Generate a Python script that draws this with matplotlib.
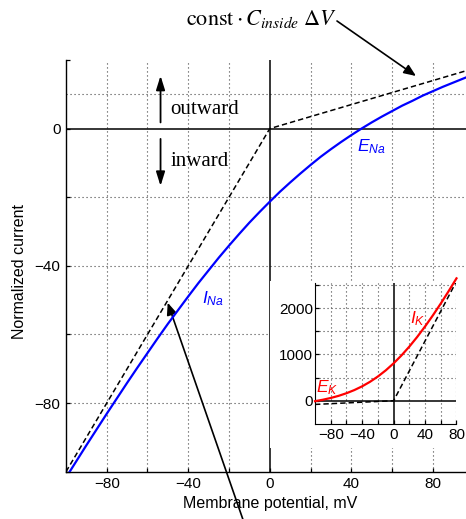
import matplotlib
matplotlib.use("Agg")
import matplotlib.pyplot as plt
from matplotlib.patches import Rectangle

plt.rcParams['font.family'] = ['Liberation Sans', 'DejaVu Sans']
plt.rcParams['mathtext.fontset'] = 'custom'
plt.rcParams['mathtext.it'] = 'Liberation Sans:italic'
plt.rcParams['mathtext.rm'] = 'Liberation Sans'

# main panel: Na current (normalized) vs membrane potential
v_na = [-100, -95, -90, -85, -80, -75, -70, -65, -60, -55, -50, -45, -40, -35,
        -30, -25, -20, -15, -10, -5, 0, 5, 10, 15, 20, 25, 30, 35, 40, 45,
        50, 55, 60, 65, 70, 75, 80, 85, 90, 95, 100]
i_na = [-101.7, -97.0, -92.3, -87.7, -83.1, -78.6, -74.1, -69.7, -65.4, -61.1,
        -56.9, -52.9, -48.9, -45.0, -41.3, -37.6, -34.1, -30.7, -27.4, -24.3,
        -21.3, -18.4, -15.7, -13.1, -10.6, -8.2, -6.0, -3.9, -1.9, 0.0,
        1.8, 3.5, 5.1, 6.7, 8.1, 9.6, 10.9, 12.2, 13.4, 14.6, 15.8]
v_na_lim = [-100, 0, 100]
i_na_lim = [-100, 0, 17.5]

# inset: K current
v_k = [-100, -90, -80, -70, -60, -50, -40, -30, -20, -10, 0, 10, 20, 30, 40,
       50, 60, 70, 80]
i_k = [-9.9, 21.3, 59.2, 105.3, 161.6, 229.6, 311.3, 408.6, 523.1, 655.6,
       807.4, 978.6, 1168.8, 1377.6, 1603.6, 1844.6, 2099.4, 2366.2, 2643.0]
v_k_lim = [-100, 0, 80]
i_k_lim = [-80, 0, 2580]

main_xgrid = [-80, -60, -40, -20, 20, 40, 60, 80]
main_ygrid = [-80, -60, -40, -20, 10]
inset_xgrid = [-80, -60, -40, -20, 20, 40, 60, 80]
inset_ygrid = [500, 1000, 1500, 2000, 2500]

dot = (0, (1, 2.6))
gridc = '#444444'

fig = plt.figure(figsize=(4.66, 5.19), dpi=100)
ax = fig.add_axes([0.1416, 0.0911, 0.8584, 0.7933])
ax.set_zorder(0)
ax.set_xlim(-100, 96.3)
ax.set_ylim(-100, 20)
for s in ['top', 'right']:
    ax.spines[s].set_visible(False)
for s in ['left', 'bottom']:
    ax.spines[s].set_linewidth(1.0)

for gx in main_xgrid:
    ax.axvline(gx, color=gridc, lw=0.8, ls=dot, zorder=1)
for gy in main_ygrid:
    ax.axhline(gy, color=gridc, lw=0.8, ls=dot, zorder=1)
ax.axhline(0, color='k', lw=1.1, zorder=2)
ax.axvline(0, color='k', lw=1.1, zorder=2)

ax.plot(v_na_lim, i_na_lim, color='k', lw=1.1, ls=(0, (3.5, 2)), zorder=3)
ax.plot(v_na, i_na, color='#0000ff', lw=1.6, zorder=4)

ax.set_xticks([-80, -40, 0, 40, 80])
ax.set_xticks([-100, -60, -20, 20, 60], minor=True)
ax.set_yticks([-80, -40, 0])
ax.set_yticks([-100, -60, -20, 20], minor=True)
ax.tick_params(which='both', direction='in', length=3, width=0.9, labelsize=11, pad=4)
ax.set_xlabel('Membrane potential, mV', fontsize=11.5)
ax.set_ylabel('Normalized current', fontsize=11.5)
ax.xaxis.set_label_coords(0.51, -0.058)
ax.yaxis.set_label_coords(-0.098, 0.486)

ax.text(42.9, -6.5, r'$E_{Na}$', color='#0000ff', fontsize=12.5, va='baseline')
ax.text(-33.1, -50.8, r'$I_{Na}$', color='#0000ff', fontsize=12.5, va='baseline')

ax.text(-49.0, 5.6, 'outward', fontsize=15, va='center', family='Liberation Serif')
ax.text(-48.6, -9.6, 'inward', fontsize=15, va='center', family='Liberation Serif')
aprops = dict(arrowstyle='-|>,head_length=0.7,head_width=0.22', color='k', lw=1.3,
              shrinkA=0, shrinkB=0, mutation_scale=12)
ax.annotate('', xy=(-53.6, 15.4), xytext=(-53.6, 1.8), arrowprops=aprops)
ax.annotate('', xy=(-53.6, -16.7), xytext=(-53.6, -3.0), arrowprops=aprops)

# pointer arrows
bprops = dict(arrowstyle='-|>,head_length=0.6,head_width=0.25', color='k', lw=1.2,
              shrinkA=0, shrinkB=0, mutation_scale=12)
ax.annotate('', xy=(416, 443), xytext=(337, 498), xycoords='figure pixels',
            textcoords='figure pixels', arrowprops=bprops, annotation_clip=False)
ax.annotate('', xy=(167.7, 216.3), xytext=(244.5, -5), xycoords='figure pixels',
            textcoords='figure pixels', arrowprops=bprops, annotation_clip=False)

fig.text(0.3985, 0.9518, r'$\mathrm{const}\cdot C_{inside}\;\Delta V$', fontsize=16,
         math_fontfamily='stix', va='baseline')

# white area behind the inset
bg = Rectangle((0.5794, 0.1368), 0.4206, 0.3218, transform=fig.transFigure,
               facecolor='white', edgecolor='none', zorder=1)
fig.patches.append(bg)

ins = fig.add_axes([0.676, 0.1833, 0.3036, 0.2721])
ins.set_zorder(2)
ins.set_facecolor('white')
ins.set_xlim(-100, 80)
ins.set_ylim(-500, 2550)
for s in ['top', 'right']:
    ins.spines[s].set_visible(False)
for gx in inset_xgrid:
    ins.axvline(gx, color=gridc, lw=0.8, ls=dot, zorder=1)
for gy in inset_ygrid:
    ins.axhline(gy, color=gridc, lw=0.8, ls=dot, zorder=1)
ins.axhline(0, color='k', lw=1.1, zorder=2)
ins.axvline(0, color='k', lw=1.1, zorder=2)
ins.plot(v_k_lim, i_k_lim, color='k', lw=1.1, ls=(0, (3.5, 2)), zorder=3)
ins.plot(v_k, i_k, color='#ff0000', lw=1.6, zorder=4, clip_on=False)
ins.set_xticks([-80, -40, 0, 40, 80])
ins.set_xticks([-60, -20, 20, 60], minor=True)
ins.set_yticks([0, 1000, 2000])
ins.set_yticks([500, 1500, 2500], minor=True)
ins.tick_params(which='both', direction='in', length=3, width=0.9, labelsize=11)
ins.tick_params(axis='y', pad=1.5)
ins.tick_params(axis='x', pad=3)
ins.text(-99, 173, r'$E_K$', color='#ff0000', fontsize=12.5, va='baseline')
ins.text(20.4, 1677, r'$I_K$', color='#ff0000', fontsize=12.5, va='baseline')

fig.savefig('out.png', dpi=100)
